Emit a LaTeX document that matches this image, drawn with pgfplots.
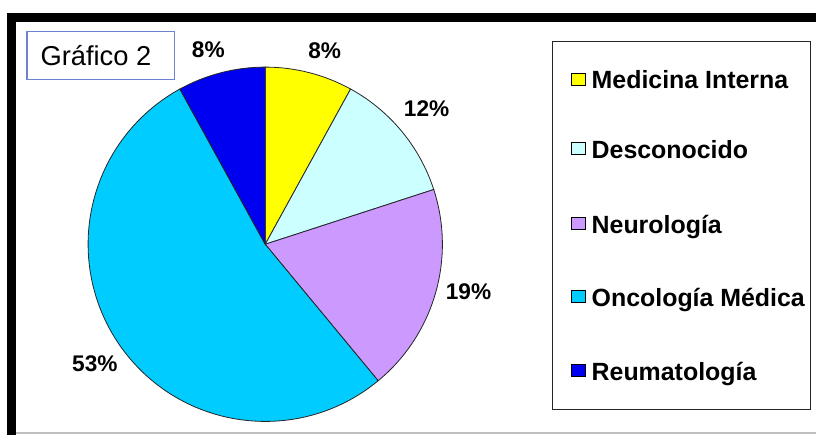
\documentclass[border=0pt]{standalone}
\usepackage{pgfplots}
\usepackage{pgfplotstable}
\pgfplotsset{compat=1.18}
\usepackage{fontspec}
\setmainfont{Liberation Sans}
\definecolor{cMI}{RGB}{255,255,0}
\definecolor{cDe}{RGB}{204,255,255}
\definecolor{cNe}{RGB}{204,153,255}
\definecolor{cOn}{RGB}{0,204,255}
\definecolor{cRe}{RGB}{0,0,240}
\definecolor{boxblue}{RGB}{110,130,210}

\pgfplotstableread{
name value
MI 8
De 12
Ne 19
On 53
Re 8
}\piedata

\def\cum{0}
\pgfplotsforeachungrouped \i in {0,...,4}{%
  \pgfplotstablegetelem{\i}{value}\of\piedata
  \pgfmathsetmacro{\sang}{90-3.6*\cum}%
  \pgfmathsetmacro{\cum}{\cum+\pgfplotsretval}%
  \pgfmathsetmacro{\eang}{90-3.6*\cum}%
  \expandafter\xdef\csname sliceS\i\endcsname{\sang}%
  \expandafter\xdef\csname sliceE\i\endcsname{\eang}%
}

\begin{document}
\begin{tikzpicture}
\begin{axis}[
  x=0.75pt, y=0.75pt,
  xmin=0, xmax=817, ymin=0, ymax=435,
  hide axis, clip=false,
]
% background
\fill[white] (axis cs:0,0) rectangle (axis cs:817,435);
% frame
\fill[black] (axis cs:7,413) rectangle (axis cs:817,422);
\fill[black] (axis cs:7,0) rectangle (axis cs:16,422);
\draw[black!25, line width=1.2pt] (axis cs:16,1.5) -- (axis cs:817,1.5);

% pie slices
\filldraw[fill=cMI, draw=black!85, line width=0.6pt] (axis cs:265.5,190.5) -- ++(\csname sliceS0\endcsname:133pt) arc[start angle=\csname sliceS0\endcsname, end angle=\csname sliceE0\endcsname, radius=133pt] -- cycle;
\filldraw[fill=cDe, draw=black!85, line width=0.6pt] (axis cs:265.5,190.5) -- ++(\csname sliceS1\endcsname:133pt) arc[start angle=\csname sliceS1\endcsname, end angle=\csname sliceE1\endcsname, radius=133pt] -- cycle;
\filldraw[fill=cNe, draw=black!85, line width=0.6pt] (axis cs:265.5,190.5) -- ++(\csname sliceS2\endcsname:133pt) arc[start angle=\csname sliceS2\endcsname, end angle=\csname sliceE2\endcsname, radius=133pt] -- cycle;
\filldraw[fill=cOn, draw=black!85, line width=0.6pt] (axis cs:265.5,190.5) -- ++(\csname sliceS3\endcsname:133pt) arc[start angle=\csname sliceS3\endcsname, end angle=\csname sliceE3\endcsname, radius=133pt] -- cycle;
\filldraw[fill=cRe, draw=black!85, line width=0.6pt] (axis cs:265.5,190.5) -- ++(\csname sliceS4\endcsname:133pt) arc[start angle=\csname sliceS4\endcsname, end angle=\csname sliceE4\endcsname, radius=133pt] -- cycle;

% percentage labels
\node[anchor=base, inner sep=0, font=\fontsize{17pt}{18pt}\selectfont\bfseries] at (axis cs:325,376) {8\%};
\node[anchor=base, inner sep=0, font=\fontsize{17pt}{18pt}\selectfont\bfseries] at (axis cs:427,318) {12\%};
\node[anchor=base, inner sep=0, font=\fontsize{17pt}{18pt}\selectfont\bfseries] at (axis cs:469,135) {19\%};
\node[anchor=base, inner sep=0, font=\fontsize{17pt}{18pt}\selectfont\bfseries] at (axis cs:95,63) {53\%};
\node[anchor=base, inner sep=0, font=\fontsize{17pt}{18pt}\selectfont\bfseries] at (axis cs:208.5,377) {8\%};

% title box
\draw[boxblue, line width=0.8pt, fill=white] (axis cs:27,355) rectangle (axis cs:175,403);
\node[anchor=base, inner sep=0, font=\fontsize{20.5pt}{22pt}\selectfont] at (axis cs:96,369) {Gráfico 2};

% legend
\draw[black!85, line width=0.8pt] (axis cs:553,393) rectangle (axis cs:811,25);
\filldraw[fill=cMI, draw=black, line width=0.6pt] (axis cs:572,350) rectangle (axis cs:586,362);
\node[anchor=base west, inner sep=0, font=\fontsize{18.7pt}{20pt}\selectfont\bfseries] at (axis cs:592,346) {Medicina Interna};
\filldraw[fill=cDe, draw=black, line width=0.6pt] (axis cs:572,280) rectangle (axis cs:586,292);
\node[anchor=base west, inner sep=0, font=\fontsize{18.7pt}{20pt}\selectfont\bfseries] at (axis cs:592,276) {Desconocido};
\filldraw[fill=cNe, draw=black, line width=0.6pt] (axis cs:572,205) rectangle (axis cs:586,217);
\node[anchor=base west, inner sep=0, font=\fontsize{18.7pt}{20pt}\selectfont\bfseries] at (axis cs:592,201) {Neurología};
\filldraw[fill=cOn, draw=black, line width=0.6pt] (axis cs:572,132) rectangle (axis cs:586,144);
\node[anchor=base west, inner sep=0, font=\fontsize{18.7pt}{20pt}\selectfont\bfseries] at (axis cs:592,128) {Oncología Médica};
\filldraw[fill=cRe, draw=black, line width=0.6pt] (axis cs:572,58) rectangle (axis cs:586,70);
\node[anchor=base west, inner sep=0, font=\fontsize{18.7pt}{20pt}\selectfont\bfseries] at (axis cs:592,54) {Reumatología};
\end{axis}
\end{tikzpicture}
\end{document}
